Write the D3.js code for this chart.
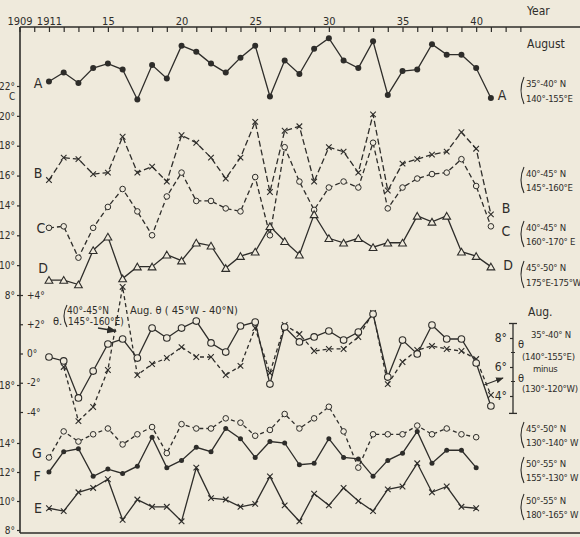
<!DOCTYPE html>
<html>
<head>
<meta charset="utf-8">
<script src="https://cdn.jsdelivr.net/npm/d3@7"></script>
<style>
  body { margin: 0; background: #efeadc; }
  text { font-family: "DejaVu Sans Condensed", "DejaVu Sans", sans-serif; fill: #2e2d2a; }
</style>
</head>
<body>
<svg></svg>
<script>
// years 1911 - 1941
const years = d3.range(1911, 1942);

// upper panel, deg C (August)
const seriesA = [22.3,22.9,22.2,23.2,23.5,23.1,21.1,23.4,22.5,24.7,24.3,23.5,22.9,23.9,24.7,21.3,23.7,22.8,24.5,25.2,23.7,23.2,25.0,21.4,23.0,23.1,24.8,24.1,24.1,23.2,21.2];
const seriesB = [15.7,17.2,17.1,16.1,16.2,18.6,16.2,16.6,15.6,18.7,18.2,17.2,15.8,17.2,19.6,14.9,19.0,19.3,15.6,17.9,17.6,16.2,20.1,15.0,16.8,17.1,17.4,17.6,18.9,17.8,13.4];
const seriesC = [12.5,12.6,10.5,12.5,13.9,15.1,13.6,12.0,14.6,16.2,14.3,14.3,13.8,13.6,15.9,12.0,17.9,15.6,13.7,15.2,15.6,15.2,18.2,13.8,15.2,15.8,16.1,16.2,17.1,15.3,12.6];
const seriesD = [9.0,9.0,8.7,11.0,11.9,9.1,9.9,9.9,10.7,10.3,11.5,11.3,9.8,10.6,10.9,12.6,11.6,10.7,13.4,11.8,11.5,11.8,11.2,11.5,11.5,13.3,12.9,13.3,10.9,10.6,9.9];

// middle panel, theta anomalies
const thetaW = [-0.24,-0.51,-3.04,-1.20,0.65,0.99,-0.31,1.74,1.06,1.74,2.22,0.72,0.10,1.88,2.15,-2.09,1.81,0.79,1.13,1.54,0.92,1.47,2.70,-1.61,0.92,-0.03,1.95,0.99,0.99,-0.65,-3.59];
const thetaNW = [null,-0.92,-4.62,-3.66,-1.13,4.55,-1.47,-0.72,-0.31,0.44,-0.24,-0.24,-1.47,-0.85,1.74,-1.33,1.95,1.33,0.17,0.31,0.31,1.13,2.77,-2.09,-0.58,0.24,0.51,0.31,0.17,-0.38,-2.84];

// lower panel, deg C (1911 - 1940)
const seriesG = [13.0,14.8,14.1,14.6,15.0,13.9,14.6,15.1,13.3,15.3,15.0,15.0,15.7,15.4,14.5,14.9,16.0,15.0,15.7,16.5,14.8,12.3,14.6,14.6,14.6,15.2,14.6,15.0,14.6,14.4];
const seriesF = [12.0,13.4,13.6,11.7,12.2,11.9,12.4,14.4,12.3,12.8,13.7,13.4,15.0,14.3,13.0,14.1,14.0,12.5,12.6,14.3,13.0,12.9,11.7,12.8,13.3,14.8,12.6,13.5,13.5,12.3];
const seriesE = [9.5,9.3,10.6,10.9,11.5,8.7,10.1,9.6,9.6,8.6,12.3,10.2,10.1,9.6,9.8,11.7,9.7,8.6,10.5,9.7,10.9,10.0,9.3,10.8,11.0,12.6,10.6,11.0,9.6,9.5];

// tick labels
const yearLabels = {1909: "1909", 1911: "1911", 1915: "15", 1920: "20", 1925: "25", 1930: "30", 1935: "35", 1940: "40"};
const upperTicks = [8,10,12,14,16,18,20,22];
const middleTicks = [-4,-2,0,2,4];
const lowerTicks = [8,10,12,14,18];
const rightTicks = [4,6,8];

const ink = "#2e2d2a", paper = "#efeadc";
const W = 580, H = 537;

const svg = d3.select("svg").attr("width", W).attr("height", H);
svg.append("rect").attr("width", W).attr("height", H).attr("fill", paper);

const x = d3.scaleLinear().domain([1909, 1941]).range([19.5, 490.9]);
const yUp = d3.scaleLinear().domain([8, 22]).range([295, 86]);
const yMid = d3.scaleLinear().domain([-4, 4]).range([412, 295]);
const yLow = d3.scaleLinear().domain([8, 18]).range([530, 385]);
const yRight = d3.scaleLinear().domain([4, 8]).range([396, 338]);

// frame
svg.append("line").attr("x1", 20).attr("x2", W).attr("y1", 27).attr("y2", 27).attr("stroke", ink).attr("stroke-width", 1.6);
svg.append("line").attr("x1", 20).attr("x2", 20).attr("y1", 27).attr("y2", 533).attr("stroke", ink).attr("stroke-width", 1.6);
svg.append("line").attr("x1", 20).attr("x2", W).attr("y1", 533).attr("y2", 533).attr("stroke", ink).attr("stroke-width", 1.6);

// top year axis
const topAxis = svg.append("g").attr("transform", "translate(0,27)")
  .call(d3.axisTop(x).tickValues(d3.range(1909, 1944)).tickSize(-5).tickPadding(2)
    .tickFormat(d => yearLabels[d] || ""));
topAxis.select(".domain").remove();
topAxis.selectAll("line").attr("stroke", ink).attr("stroke-width", 1.2);
topAxis.selectAll("text").attr("font-size", 11).attr("fill", ink);

svg.append("text").attr("x", 527).attr("y", 15).attr("font-size", 12).text("Year");
svg.append("text").attr("x", 527).attr("y", 48).attr("font-size", 12).text("August");

// left axes
function styleAxis(g) {
  g.select(".domain").remove();
  g.selectAll("line").attr("stroke", ink).attr("stroke-width", 1.2);
  g.selectAll("text").attr("font-size", 10).attr("fill", ink);
}
svg.append("g").attr("transform", "translate(20,0)")
  .call(d3.axisLeft(yUp).tickValues(upperTicks).tickSize(3).tickPadding(2).tickFormat(d => d + "°"))
  .call(styleAxis);
svg.append("g").attr("transform", "translate(20,0)")
  .call(d3.axisRight(yMid).tickValues(middleTicks).tickSize(3).tickPadding(4)
    .tickFormat(d => (d > 0 ? "+" : d < 0 ? "-" : "") + Math.abs(d) + "°"))
  .call(styleAxis);
svg.append("g").attr("transform", "translate(20,0)")
  .call(d3.axisLeft(yLow).tickValues(lowerTicks).tickSize(3).tickPadding(2).tickFormat(d => d + "°"))
  .call(styleAxis);
svg.append("text").attr("x", 9).attr("y", 100).attr("font-size", 10).text("C");

// right theta-difference axis
const rAxis = svg.append("g").attr("transform", "translate(513,0)")
  .call(d3.axisLeft(yRight).tickValues(rightTicks).tickSize(3).tickPadding(3).tickFormat(d => d + "°"));
rAxis.select(".domain").remove();
rAxis.selectAll("line").attr("stroke", ink).attr("stroke-width", 1.2);
rAxis.selectAll("text").attr("font-size", 12).attr("fill", ink);
svg.append("line").attr("x1", 513).attr("x2", 513).attr("y1", yRight(9)).attr("y2", yRight(2.8)).attr("stroke", ink).attr("stroke-width", 1.3);
[9, 2.8].forEach(v => svg.append("line").attr("x1", 509).attr("x2", 517).attr("y1", yRight(v)).attr("y2", yRight(v)).attr("stroke", ink).attr("stroke-width", 1.3));
[5, 7].forEach(v => svg.append("line").attr("x1", 511).attr("x2", 515).attr("y1", yRight(v)).attr("y2", yRight(v)).attr("stroke", ink).attr("stroke-width", 1));

// markers
function marker(g, type, cx, cy) {
  if (type === "dot") {
    g.append("circle").attr("cx", cx).attr("cy", cy).attr("r", 3).attr("fill", ink);
  } else if (type === "smalldot") {
    g.append("circle").attr("cx", cx).attr("cy", cy).attr("r", 2.5).attr("fill", ink);
  } else if (type === "ring") {
    g.append("circle").attr("cx", cx).attr("cy", cy).attr("r", 3.3).attr("fill", paper).attr("stroke", ink).attr("stroke-width", 1.1);
  } else if (type === "smallring") {
    g.append("circle").attr("cx", cx).attr("cy", cy).attr("r", 2.8).attr("fill", paper).attr("stroke", ink).attr("stroke-width", 1);
  } else if (type === "tri") {
    g.append("path").attr("transform", `translate(${cx},${cy + 1})`)
      .attr("d", d3.symbol(d3.symbolTriangle, 26)()).attr("fill", paper).attr("stroke", ink).attr("stroke-width", 1.1);
  } else if (type === "cross") {
    g.append("path").attr("d", `M${cx - 2.8},${cy - 2.8}L${cx + 2.8},${cy + 2.8}M${cx - 2.8},${cy + 2.8}L${cx + 2.8},${cy - 2.8}`)
      .attr("stroke", ink).attr("stroke-width", 1.1);
  }
}

function drawSeries(values, yScale, dash, type) {
  const pts = values.map((v, i) => ({ year: years[i], v: v }));
  const line = d3.line().defined(d => d.v != null).x(d => x(d.year)).y(d => yScale(d.v));
  const g = svg.append("g");
  g.append("path").attr("d", line(pts)).attr("fill", "none").attr("stroke", ink)
    .attr("stroke-width", 1.3).attr("stroke-dasharray", dash);
  pts.filter(d => d.v != null).forEach(d => marker(g, type, x(d.year), yScale(d.v)));
}

drawSeries(seriesB, yUp, "6,3", "cross");
drawSeries(seriesC, yUp, "5,3", "smallring");
drawSeries(seriesD, yUp, null, "tri");
drawSeries(seriesA, yUp, null, "dot");
drawSeries(thetaNW, yMid, "4,3", "cross");
drawSeries(thetaW, yMid, null, "ring");
drawSeries(seriesG, yLow, "4,3", "smallring");
drawSeries(seriesF, yLow, null, "smalldot");
drawSeries(seriesE, yLow, null, "cross");

// series letters
const letter = (t, lx, ly) => svg.append("text").attr("x", lx).attr("y", ly).attr("font-size", 14).attr("text-anchor", "middle").attr("dominant-baseline", "central").text(t);
letter("A", 38, 83); letter("B", 38, 173); letter("C", 41, 228); letter("D", 43, 268);
letter("G", 37, 453); letter("F", 37, 476); letter("E", 38, 508);
letter("A", 502, 95); letter("B", 506, 208); letter("C", 506, 231); letter("D", 508, 265);

// region labels with a drawn bracket
function bracket(lx, top, bottom) {
  svg.append("path").attr("d", `M${lx + 4},${top}Q${lx - 2},${(top + bottom) / 2} ${lx + 4},${bottom}`)
    .attr("fill", "none").attr("stroke", ink).attr("stroke-width", 1.1);
}
function region(lx, c1, c2, l1, l2) {
  bracket(lx, c1 - 6, c2 + 6);
  [[l1, c1], [l2, c2]].forEach(([t, cy]) => svg.append("text").attr("x", lx + 6).attr("y", cy)
    .attr("dominant-baseline", "central").attr("font-size", 9.5).attr("letter-spacing", -0.3).text(t));
}
region(520, 83, 98, "35°-40° N", "140°-155°E");
region(520, 173, 187, "40°-45° N", "145°-160°E");
region(520, 227, 241, "40°-45° N", "160°-170° E");
region(520, 267, 282, "45°-50° N", "175°E-175°W");
region(520, 428, 442, "45°-50° N", "130°-140° W");
region(520, 463, 477, "50°-55° N", "155°-130° W");
region(520, 500, 514, "50°-55° N", "180°-165° W");

// right theta block
const tline = (t, tx, ty, fs) => svg.append("text").attr("x", tx).attr("y", ty).attr("dominant-baseline", "central")
  .attr("font-size", fs || 9.5).attr("letter-spacing", fs ? 0 : -0.3).text(t);
tline("Aug.", 528, 312, 12);
tline("35°-40° N", 531, 334);
tline("θ", 518, 344, 11);
tline("(140°-155°E)", 522, 356);
tline("minus", 533, 368);
tline("θ", 518, 378, 11);
tline("(130°-120°W)", 522, 388);

// middle annotations
tline("θ.", 53, 321, 11);
bracket(63, 305, 327);
tline("40°-45°N", 67, 310, 10);
tline("145°-160°E)", 68, 321, 10);
tline("Aug. θ ( 45°W - 40°N)", 130, 310, 11);

svg.append("defs").append("marker").attr("id", "ah").attr("viewBox", "0 0 10 10")
  .attr("refX", 9).attr("refY", 5).attr("markerWidth", 7).attr("markerHeight", 7).attr("orient", "auto")
  .append("path").attr("d", "M0,1L10,5L0,9z").attr("fill", ink);
svg.append("line").attr("x1", 98).attr("y1", 328).attr("x2", 116).attr("y2", 331)
  .attr("stroke", ink).attr("stroke-width", 1.4).attr("marker-end", "url(#ah)");
svg.append("line").attr("x1", 484).attr("y1", 385).attr("x2", 503).attr("y2", 378)
  .attr("stroke", ink).attr("stroke-width", 1.1).attr("marker-end", "url(#ah)");
</script>
</body>
</html>
